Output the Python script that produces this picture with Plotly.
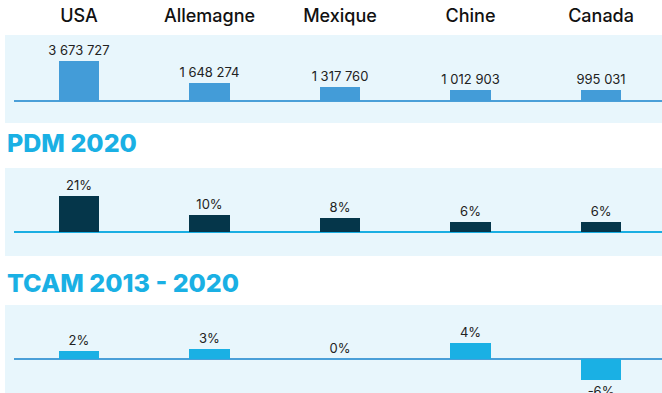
import plotly.graph_objects as go

countries = ["USA", "Allemagne", "Mexique", "Chine", "Canada"]
volumes = [3673727, 1648274, 1317760, 1012903, 995031]
pdm_2020 = [21, 10, 8, 6, 6]
tcam_values = [2.2, 2.7, 0.0, 4.2, -5.7]
tcam_labels = ["2%", "3%", "0%", "4%", "-6%"]
titles = ["PDM 2020", "TCAM 2013 - 2020"]

W, H = 662, 393
FONT = "Inter"

vol_text = [f"{v:,}".replace(",", " ") for v in volumes]
pdm_text = [f"{v}%" for v in pdm_2020]

fig = go.Figure()
common = dict(width=0.31, textposition="outside", cliponaxis=False, constraintext="none",
              textfont=dict(family=FONT, size=13, color="#222222"),
              hoverinfo="skip", marker_line_width=0)
fig.add_trace(go.Bar(x=countries, y=volumes, text=vol_text, marker_color="#439cd8",
                     xaxis="x", yaxis="y", **common))
fig.add_trace(go.Bar(x=countries, y=pdm_2020, text=pdm_text, marker_color="#05364a",
                     xaxis="x2", yaxis="y2", **common))
fig.add_trace(go.Bar(x=countries, y=tcam_values, text=tcam_labels, marker_color="#1ab0e4",
                     xaxis="x3", yaxis="y3", **common))

def pdom(top_px, bot_px):
    return [(H - bot_px) / H, (H - top_px) / H]

xr = [-0.605, 4.467]
xbase = dict(range=xr, showgrid=False, zeroline=False, showline=False, fixedrange=True)
fig.update_layout(
    width=W, height=H, margin=dict(l=0, r=0, t=0, b=0),
    paper_bgcolor="white", plot_bgcolor="rgba(0,0,0,0)",
    showlegend=False, bargap=0,
    xaxis=dict(domain=[0, 1], anchor="y", side="top", showticklabels=True,
               ticks="", ticklabelstandoff=8,
               tickfont=dict(family=FONT, size=18, color="#111111", weight=500), **xbase),
    yaxis=dict(domain=pdom(35, 123), range=[-22 / 40 * volumes[0], 66 / 40 * volumes[0]],
               visible=False, fixedrange=True),
    xaxis2=dict(domain=[0, 1], anchor="y2", showticklabels=False, **xbase),
    yaxis2=dict(domain=pdom(168, 256), range=[-24 / 36 * 21, 64 / 36 * 21],
                visible=False, fixedrange=True),
    xaxis3=dict(domain=[0, 1], anchor="y3", showticklabels=False, **xbase),
    yaxis3=dict(domain=pdom(305, 393), range=[-34 / 3.7, 54 / 3.7],
                visible=False, fixedrange=True),
)

band = "#e8f6fc"
shapes = []
for yr in ["y", "y2", "y3"]:
    shapes.append(dict(type="rect", xref="paper", yref=f"{yr} domain", x0=5 / W, x1=1,
                       y0=0, y1=1, fillcolor=band, line_width=0, layer="below"))
for yr, col in [("y", "#4a9fd8"), ("y2", "#1aaee2"), ("y3", "#4a9fd8")]:
    shapes.append(dict(type="line", xref="paper", yref=yr, x0=14 / W, x1=1, y0=0, y1=0,
                       line=dict(color=col, width=2), layer="below"))
fig.update_layout(shapes=shapes)

for t, ypx in zip(titles, [143, 283]):
    fig.add_annotation(text=t, xref="paper", yref="paper", x=5 / W,
                       y=(H - ypx) / H, xanchor="left", yanchor="middle", showarrow=False,
                       font=dict(family=FONT, size=25, color="#1ab0e4", weight=800))

fig.write_html("out.html", config={"displayModeBar": False, "staticPlot": True},
               post_script="document.body.style.margin='0';"
               "document.body.style.overflow='hidden';")
